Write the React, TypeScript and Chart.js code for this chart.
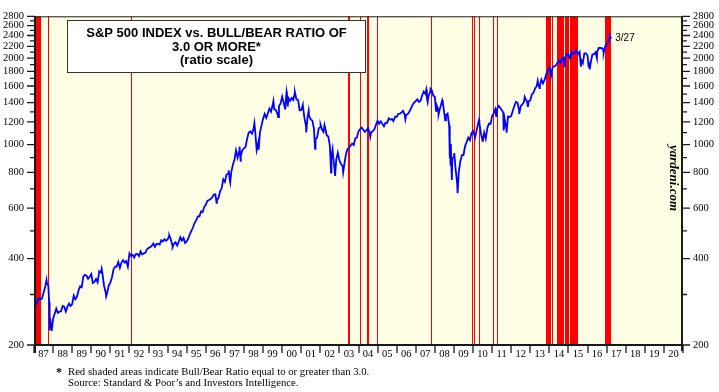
import React, { useEffect, useRef } from "react";
import { Chart, registerables } from "chart.js";

Chart.register(...registerables);

// S&P 500 month-end closes, Jan 1987 .. Feb 2017 (one row per year)
const spMonthly: number[] = [
  274.08, 284.2, 291.7, 288.36, 290.1, 304.0, 318.66, 329.8, 321.83, 251.79, 230.3, 247.08,
  257.07, 267.82, 258.89, 261.33, 262.16, 273.5, 272.02, 261.52, 271.91, 278.97, 273.7, 277.72,
  297.47, 288.86, 294.87, 309.64, 320.52, 317.98, 346.08, 351.45, 349.15, 340.36, 345.99, 353.4,
  329.08, 331.89, 339.94, 330.8, 361.23, 358.02, 356.15, 322.56, 306.05, 304.0, 322.22, 330.22,
  343.93, 367.07, 375.22, 375.34, 389.83, 371.16, 387.81, 395.43, 387.86, 392.45, 375.22, 417.09,
  408.79, 412.7, 403.69, 414.95, 415.35, 408.14, 424.21, 414.03, 417.8, 418.68, 431.35, 435.71,
  438.78, 443.38, 451.67, 440.19, 450.19, 450.53, 448.13, 463.56, 458.93, 467.83, 461.79, 466.45,
  481.61, 467.14, 445.77, 450.91, 456.5, 444.27, 458.26, 475.49, 462.69, 472.35, 453.69, 459.27,
  470.42, 487.39, 500.71, 514.71, 533.4, 544.75, 562.06, 561.88, 584.41, 581.5, 605.37, 615.93,
  636.02, 640.43, 645.5, 654.17, 669.12, 670.63, 639.95, 651.99, 687.31, 705.27, 757.02, 740.74,
  786.16, 790.82, 757.12, 801.34, 848.28, 885.14, 954.29, 899.47, 947.28, 914.62, 955.4, 970.43,
  980.28, 1049.34, 1101.75, 1111.75, 1090.82, 1133.84, 1120.67, 957.28, 1017.01, 1098.67, 1163.63, 1229.23,
  1279.64, 1238.33, 1286.37, 1335.18, 1301.84, 1372.71, 1328.72, 1320.41, 1282.71, 1362.93, 1388.91, 1469.25,
  1394.46, 1366.42, 1498.58, 1452.43, 1420.6, 1454.6, 1430.83, 1517.68, 1436.51, 1429.4, 1314.95, 1320.28,
  1366.01, 1239.94, 1160.33, 1249.46, 1255.82, 1224.42, 1211.23, 1133.58, 1040.94, 1059.78, 1139.45, 1148.08,
  1130.2, 1106.73, 1147.39, 1076.92, 1067.14, 989.82, 911.62, 916.07, 815.28, 885.76, 936.31, 879.82,
  855.7, 841.15, 848.18, 916.92, 963.59, 974.5, 990.31, 1008.01, 995.97, 1050.71, 1058.2, 1111.92,
  1131.13, 1144.94, 1126.21, 1107.3, 1120.68, 1140.84, 1101.72, 1104.24, 1114.58, 1130.2, 1173.82, 1211.92,
  1181.27, 1203.6, 1180.59, 1156.85, 1191.5, 1191.33, 1234.18, 1220.33, 1228.81, 1207.01, 1249.48, 1248.29,
  1280.08, 1280.66, 1294.83, 1310.61, 1270.09, 1270.2, 1276.66, 1303.82, 1335.85, 1377.94, 1400.63, 1418.3,
  1438.24, 1406.82, 1420.86, 1482.37, 1530.62, 1503.35, 1455.27, 1473.99, 1526.75, 1549.38, 1481.14, 1468.36,
  1378.55, 1330.63, 1322.7, 1385.59, 1400.38, 1280.0, 1267.38, 1282.83, 1166.36, 968.75, 896.24, 903.25,
  825.88, 735.09, 797.87, 872.81, 919.14, 919.32, 987.48, 1020.62, 1057.08, 1036.19, 1095.63, 1115.1,
  1073.87, 1104.49, 1169.43, 1186.69, 1089.41, 1030.71, 1101.6, 1049.33, 1141.2, 1183.26, 1180.55, 1257.64,
  1286.12, 1327.22, 1325.83, 1363.61, 1345.2, 1320.64, 1292.28, 1218.89, 1131.42, 1253.3, 1246.96, 1257.6,
  1312.41, 1365.68, 1408.47, 1397.91, 1310.33, 1362.16, 1379.32, 1406.58, 1440.67, 1412.16, 1416.18, 1426.19,
  1498.11, 1514.68, 1569.19, 1597.57, 1630.74, 1606.28, 1685.73, 1632.97, 1681.55, 1756.54, 1805.81, 1848.36,
  1782.59, 1859.45, 1872.34, 1883.95, 1923.57, 1960.23, 1930.67, 2003.37, 1972.29, 2018.05, 2067.56, 2058.9,
  1994.99, 2104.5, 2067.89, 2085.51, 2107.39, 2063.11, 2103.84, 1972.18, 1920.03, 2079.36, 2080.41, 2043.94,
  1940.24, 1932.23, 2059.74, 2065.3, 2096.95, 2098.86, 2173.6, 2170.95, 2168.27, 2126.15, 2198.81, 2238.83,
  2278.87, 2363.64,
];

// Intra-month highs / lows and the end points
const swingDates: string[] = [
  "1987-01-02", "1987-08-25", "1987-10-16", "1987-10-19", "1987-12-04",
  "1990-07-16", "1990-10-11", "1994-02-02", "1994-04-04", "1996-07-24",
  "1997-03-11", "1997-04-11", "1997-10-07", "1997-10-27", "1998-07-17", "1998-10-08",
  "1999-07-16", "1999-10-15", "2000-02-25", "2000-03-24", "2000-04-14", "2000-09-01",
  "2001-01-30", "2001-04-04", "2001-05-21", "2001-09-21", "2002-01-04", "2002-03-19",
  "2002-07-23", "2002-08-22", "2002-10-09", "2003-03-11", "2004-08-12", "2006-06-13",
  "2007-07-19", "2007-08-15", "2007-10-09", "2008-01-22", "2008-03-10", "2008-05-19",
  "2008-07-15", "2008-10-10", "2008-10-13", "2008-10-27", "2008-11-04", "2008-11-20",
  "2009-01-06", "2009-03-09", "2010-02-08", "2010-04-23", "2010-07-02", "2011-03-16",
  "2011-08-08", "2011-10-03", "2012-06-01", "2012-09-14", "2012-11-15", "2013-05-21",
  "2013-06-24", "2014-02-03", "2014-09-18", "2014-10-15", "2015-05-21", "2015-08-25",
  "2016-01-20", "2016-02-11", "2016-06-27", "2016-11-04", "2017-03-01", "2017-03-27",
];
const swingValues: number[] = [
  246.45, 336.77, 282.7, 224.84, 223.92,
  368.95, 295.46, 482.0, 438.92, 626.65,
  813.65, 737.65, 983.12, 876.99, 1186.75, 959.44,
  1418.78, 1247.41, 1333.36, 1527.46, 1356.56, 1520.77,
  1373.73, 1103.25, 1312.83, 965.8, 1172.51, 1170.29,
  797.7, 962.7, 776.76, 800.73, 1063.23, 1223.69,
  1553.08, 1406.7, 1565.15, 1310.5, 1273.37, 1426.63,
  1214.91, 899.22, 1003.35, 848.92, 1005.75, 752.44,
  934.7, 676.53, 1056.74, 1217.28, 1022.58, 1256.88,
  1119.46, 1099.23, 1278.04, 1465.77, 1353.33, 1669.16,
  1573.09, 1741.89, 2011.36, 1862.49, 2130.82, 1867.61,
  1859.33, 1829.08, 2000.54, 2085.18, 2395.96, 2341.59,
];

// Periods with Bull/Bear ratio >= 3.0 (red shading)
const bandStarts: string[] = [
  "1987-01-01", "1987-09-18", "1992-02-07", "2003-06-16", "2004-01-23", "2004-06-20",
  "2004-12-17", "2007-10-12", "2009-12-11", "2010-01-15", "2010-05-01", "2011-01-14",
  "2011-04-01", "2013-10-31", "2014-02-14", "2014-05-19", "2014-11-03", "2015-01-27",
  "2016-12-02",
];
const bandEnds: string[] = [
  "1987-05-10", "1987-09-25", "1992-02-14", "2003-07-15", "2004-02-17", "2004-07-12",
  "2004-12-24", "2007-10-19", "2009-12-18", "2010-01-22", "2010-05-08", "2011-01-21",
  "2011-04-08", "2014-02-03", "2014-03-03", "2014-09-30", "2015-01-09", "2015-06-28",
  "2017-03-27",
];

const yTickValues: number[] = [
  200, 300, 400, 500, 600, 700, 800, 900, 1000, 1100, 1200, 1300, 1400, 1500,
  1600, 1700, 1800, 1900, 2000, 2100, 2200, 2300, 2400, 2500, 2600, 2700, 2800,
];
const yLabeledValues: number[] = [
  200, 400, 600, 800, 1000, 1200, 1400, 1600, 1800, 2000, 2200, 2400, 2600, 2800,
];
const xYearLabels: string[] = [
  "87", "88", "89", "90", "91", "92", "93", "94", "95", "96", "97", "98", "99", "00",
  "01", "02", "03", "04", "05", "06", "07", "08", "09", "10", "11", "12", "13", "14",
  "15", "16", "17", "18", "19", "20",
];
const firstYear = 1987;

const titleLines: string[] = [
  "S&P 500 INDEX vs. BULL/BEAR RATIO OF",
  "3.0 OR MORE*",
  "(ratio scale)",
];
const footnoteLines: string[] = [
  "Red shaded areas indicate Bull/Bear Ratio equal to or greater than 3.0.",
  "Source: Standard & Poor\u2019s and Investors Intelligence.",
];
const lastDateLabel = "3/27";
const watermark = "yardeni.com";

const SERIF = "'Liberation Serif', 'Times New Roman', serif";
const SANS = "'Liberation Sans', Arial, sans-serif";

function toYear(s: string): number {
  const p = s.split("-").map(Number);
  if (p.length === 2) return p[0] + p[1] / 12;
  return p[0] + (p[1] - 1) / 12 + p[2] / 365;
}

function buildPoints() {
  const pts: { x: number; y: number }[] = [];
  spMonthly.forEach((v, i) => pts.push({ x: firstYear + (i + 1) / 12, y: v }));
  swingDates.forEach((d, i) => pts.push({ x: toYear(d), y: swingValues[i] }));
  pts.sort((a, b) => a.x - b.x);
  return pts;
}

const decorPlugin = {
  id: "decor",
  beforeDraw(chart: any) {
    const { ctx, chartArea: a } = chart;
    ctx.save();
    ctx.fillStyle = "#ffffff";
    ctx.fillRect(0, 0, chart.width, chart.height);
    ctx.fillStyle = "#FFFFE6";
    ctx.fillRect(a.left, a.top, a.right - a.left, a.bottom - a.top);
    ctx.restore();
  },
  beforeDatasetsDraw(chart: any) {
    const { ctx, chartArea: a } = chart;
    const xs = chart.scales.x;
    ctx.save();
    ctx.fillStyle = "#FF0000";
    bandStarts.forEach((s, i) => {
      const x0 = xs.getPixelForValue(toYear(s));
      const x1 = xs.getPixelForValue(toYear(bandEnds[i]));
      const l = Math.max(a.left, Math.round(x0));
      const w = Math.max(1, Math.round(x1) - l);
      ctx.fillRect(l, a.top, w, a.bottom - a.top);
    });
    ctx.restore();
  },
  afterDatasetsDraw(chart: any) {
    const { ctx } = chart;
    const xs = chart.scales.x;
    const ys = chart.scales.y;
    ctx.save();
    // title box
    ctx.fillStyle = "#ffffff";
    ctx.fillRect(67, 20, 299, 53);
    ctx.strokeStyle = "#333333";
    ctx.lineWidth = 1;
    ctx.strokeRect(67.5, 20.5, 298, 52);
    ctx.fillStyle = "#000000";
    ctx.font = `bold 13px ${SANS}`;
    ctx.textAlign = "center";
    ctx.textBaseline = "middle";
    titleLines.forEach((t, i) => ctx.fillText(t, 216.5, 33.5 + i * 13.5));

    // last date label
    const lastX = xs.getPixelForValue(toYear(swingDates[swingDates.length - 1]));
    const lastY = ys.getPixelForValue(swingValues[swingValues.length - 1]);
    ctx.font = `10px ${SANS}`;
    ctx.textAlign = "left";
    ctx.fillText(lastDateLabel, lastX + 4, lastY);

    // watermark
    ctx.translate(673, 178);
    ctx.rotate(Math.PI / 2);
    ctx.font = `italic bold 13px ${SERIF}`;
    ctx.textAlign = "center";
    ctx.fillText(watermark, 0, 0);
    ctx.restore();
  },
  afterDraw(chart: any) {
    const { ctx, chartArea: a } = chart;
    const xs = chart.scales.x;
    const ys = chart.scales.y;
    ctx.save();
    ctx.strokeStyle = "#1a1a1a";
    // frame
    ctx.lineWidth = 1;
    ctx.beginPath();
    ctx.moveTo(a.left, a.top + 0.5);
    ctx.lineTo(a.right, a.top + 0.5);
    ctx.stroke();
    ctx.lineWidth = 2;
    ctx.beginPath();
    ctx.moveTo(a.left + 1, a.top);
    ctx.lineTo(a.left + 1, a.bottom + 8);
    ctx.moveTo(a.right - 1, a.top);
    ctx.lineTo(a.right - 1, a.bottom + 6);
    ctx.moveTo(a.left, a.bottom);
    ctx.lineTo(a.right, a.bottom);
    ctx.stroke();
    // y ticks
    ctx.lineWidth = 1.3;
    ctx.beginPath();
    yTickValues.forEach((v) => {
      const y = ys.getPixelForValue(v);
      const major = yLabeledValues.includes(v);
      const len = major ? 8 : 5;
      ctx.moveTo(a.left + 1, y);
      ctx.lineTo(a.left + 1 - len, y);
      ctx.moveTo(a.right - 1, y);
      ctx.lineTo(a.right - 1 + len, y);
    });
    // x ticks at year boundaries
    for (let i = 0; i <= xYearLabels.length; i++) {
      const x = Math.round(xs.getPixelForValue(firstYear + i));
      ctx.moveTo(x, a.bottom);
      ctx.lineTo(x, a.bottom + 8);
    }
    ctx.stroke();

    // footnotes
    ctx.fillStyle = "#000000";
    ctx.textAlign = "left";
    ctx.textBaseline = "middle";
    ctx.font = `bold 12px ${SERIF}`;
    ctx.fillText("*", 56, 373);
    ctx.font = `10.7px ${SERIF}`;
    footnoteLines.forEach((t, i) => ctx.fillText(t, 68, 372 + i * 11.5));
    ctx.restore();
  },
};

export default function App() {
  const ref = useRef<HTMLCanvasElement | null>(null);

  useEffect(() => {
    document.body.style.margin = "0";
    const canvas = ref.current;
    if (!canvas) return;
    const tickFont = { family: SERIF, size: 10.5 };
    const chart = new Chart(canvas, {
      type: "line",
      data: {
        datasets: [
          {
            data: buildPoints(),
            borderColor: "#0000FF",
            borderWidth: 1.8,
            pointRadius: 0,
            fill: false,
            tension: 0,
            yAxisID: "y",
          },
        ],
      },
      options: {
        responsive: false,
        animation: false,
        devicePixelRatio: 1,
        events: [],
        layout: { padding: { top: 9, left: 0, right: 0, bottom: 0 } },
        plugins: { legend: { display: false }, tooltip: { enabled: false } },
        scales: {
          x: {
            type: "linear",
            min: firstYear,
            max: firstYear + xYearLabels.length,
            grid: { display: false, drawTicks: false },
            border: { display: false },
            afterBuildTicks: (s: any) => {
              s.ticks = xYearLabels.map((_, i) => ({ value: firstYear + i + 0.5 }));
            },
            afterFit: (s: any) => {
              s.height = 47;
            },
            ticks: {
              autoSkip: false,
              maxRotation: 0,
              padding: 3,
              color: "#000",
              font: tickFont,
              callback: (v: any) => xYearLabels[Math.floor(Number(v)) - firstYear] ?? "",
            },
          },
          y: {
            type: "logarithmic",
            position: "left",
            min: 200,
            max: 2800,
            grid: { display: false, drawTicks: false },
            border: { display: false },
            afterBuildTicks: (s: any) => {
              s.ticks = yTickValues.map((v) => ({ value: v }));
            },
            afterFit: (s: any) => {
              s.width = 34;
            },
            ticks: {
              autoSkip: false,
              padding: 10,
              color: "#000",
              font: tickFont,
              callback: (v: any) => (yLabeledValues.includes(Number(v)) ? String(v) : ""),
            },
          },
          y2: {
            type: "logarithmic",
            position: "right",
            min: 200,
            max: 2800,
            grid: { display: false, drawTicks: false },
            border: { display: false },
            afterBuildTicks: (s: any) => {
              s.ticks = yTickValues.map((v) => ({ value: v }));
            },
            afterFit: (s: any) => {
              s.width = 36;
            },
            ticks: {
              autoSkip: false,
              padding: 10,
              color: "#000",
              font: tickFont,
              callback: (v: any) => (yLabeledValues.includes(Number(v)) ? String(v) : ""),
            },
          },
        },
      } as any,
      plugins: [decorPlugin],
    });
    return () => chart.destroy();
  }, []);

  return (
    <div style={{ width: 719, height: 392, position: "relative" }}>
      <canvas
        ref={ref}
        width={719}
        height={392}
        style={{ display: "block", width: 719, height: 392 }}
      />
    </div>
  );
}
